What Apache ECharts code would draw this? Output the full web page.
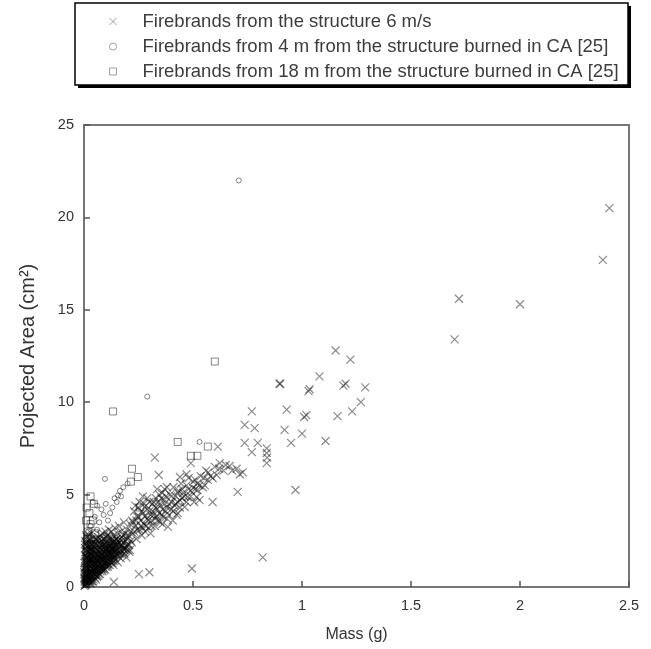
<!DOCTYPE html>
<html>
<head>
<meta charset="utf-8">
<script src="https://cdn.jsdelivr.net/npm/echarts@6/dist/echarts.min.js"></script>
<style>
html,body{margin:0;padding:0;background:#fff;}
#chart{width:651px;height:649px;}
</style>
</head>
<body>
<div id="chart"></div>
<script>
// ---- Data (mass g, projected area cm^2) ----
var seriesNames = [
  'Firebrands from the structure 6 m/s',
  'Firebrands from 4 m from the structure burned in CA [25]',
  'Firebrands from 18 m from the structure burned in CA [25]'
];
var xTicks = [0, 0.5, 1, 1.5, 2, 2.5];
var yTicks = [0, 5, 10, 15, 20, 25];

// crosses: dense core near origin
var structureCore = [
[0.002,0.05],[0.004,0.15],[0.003,0.3],[0.006,0.1],[0.005,0.45],[0.008,0.25],[0.007,0.6],[0.01,0.15],[0.009,0.4],[0.011,0.75],
[0.012,0.3],[0.013,0.55],[0.014,0.9],[0.015,0.2],[0.016,0.65],[0.017,1.05],[0.018,0.4],[0.019,0.8],[0.02,1.2],[0.021,0.3],
[0.022,0.6],[0.023,0.95],[0.024,1.4],[0.025,0.45],[0.026,0.75],[0.027,1.1],[0.028,1.6],[0.029,0.35],[0.03,0.9],[0.031,1.3],
[0.032,0.6],[0.033,1.8],[0.034,1.0],[0.035,0.45],[0.036,1.5],[0.037,0.8],[0.038,2.0],[0.039,1.2],[0.04,0.6],[0.041,1.7],
[0.042,0.95],[0.043,2.2],[0.044,1.35],[0.045,0.7],[0.046,1.9],[0.047,1.1],[0.048,2.4],[0.049,0.85],[0.05,1.55],[0.052,2.1],
[0.053,1.25],[0.054,0.7],[0.055,1.8],[0.056,2.6],[0.057,1.0],[0.058,1.45],[0.06,2.3],[0.061,0.9],[0.062,1.7],[0.063,1.2],
[0.064,2.0],[0.066,2.7],[0.067,1.35],[0.068,0.95],[0.069,1.9],[0.07,2.4],[0.072,1.1],[0.073,1.6],[0.074,2.15],[0.076,1.3],
[0.077,2.8],[0.078,1.8],[0.08,1.05],[0.081,2.5],[0.082,1.5],[0.084,2.0],[0.085,1.2],[0.086,2.9],[0.088,1.7],[0.089,2.3],
[0.09,1.0],[0.092,1.45],[0.093,2.6],[0.094,1.9],[0.096,1.25],[0.097,2.2],[0.098,3.0],[0.1,1.6],[0.101,2.4],[0.103,1.1],
[0.104,2.0],[0.106,2.8],[0.107,1.4],[0.108,1.8],[0.11,2.5],[0.112,1.2],[0.113,2.2],[0.115,3.1],[0.116,1.6],[0.118,2.0],
[0.12,2.7],[0.121,1.35],[0.123,2.35],[0.125,1.8],[0.126,3.0],[0.128,1.5],[0.13,2.5],[0.132,2.05],[0.134,1.2],[0.136,2.8],
[0.138,1.7],[0.14,2.3],[0.142,3.2],[0.144,1.45],[0.146,2.0],[0.148,2.6],[0.15,1.8],[0.153,2.9],[0.155,1.35],[0.157,2.3],
[0.16,3.3],[0.162,1.9],[0.165,2.6],[0.168,1.55],[0.17,3.0],[0.173,2.2],[0.176,1.75],[0.18,2.8],[0.183,3.5],[0.186,2.0],
[0.19,2.5],[0.194,1.6],[0.197,3.1],[0.2,2.3],[0.204,2.8],[0.208,1.9],[0.212,3.4],[0.215,2.5],
[0.001,0.8],[0.002,1.3],[0.003,1.0],[0.004,1.7],[0.005,2.1],[0.006,1.5],[0.008,2.4],[0.01,1.9],[0.012,2.7],[0.014,2.2],
[0.016,1.6],[0.018,2.5],[0.02,1.9],[0.022,2.8],[0.025,2.3],[0.028,2.0],[0.03,2.6],[0.032,2.3],[0.034,2.9],
[0.003,0.7],[0.005,1.1],[0.007,1.4],[0.009,1.7],[0.011,2.0],[0.013,2.3],[0.006,2.5],[0.009,2.8],[0.004,2.3],[0.011,1.3],
[0.013,1.6],[0.015,1.9],[0.017,0.5],[0.019,1.4],[0.021,1.7],[0.023,2.1],[0.024,0.2],[0.026,1.5],[0.027,2.5],[0.029,1.8],
[0.031,0.2],[0.033,0.8],[0.035,2.1],[0.036,1.2],[0.038,0.3],[0.04,2.4],[0.042,1.5],[0.044,0.4],[0.046,1.3],[0.048,1.75],
[0.05,0.5],[0.051,2.3],[0.053,1.0],[0.055,0.4],[0.057,1.6],[0.059,2.0],[0.06,0.55],[0.062,1.4],[0.064,0.8],[0.065,1.55],
[0.067,2.2],[0.069,0.7],[0.071,1.45],[0.073,1.9],[0.075,0.85],[0.077,1.5],[0.079,2.3],[0.081,0.95],[0.083,1.65],[0.085,2.4],
[0.087,1.1],[0.089,1.5],[0.091,2.1],[0.093,1.3],[0.095,1.75],[0.097,0.95],[0.099,2.0],[0.102,1.4],[0.105,1.75],[0.107,2.3],
[0.109,1.3],[0.111,1.9],[0.114,1.5],[0.117,2.3],[0.119,1.4],[0.122,1.9],[0.124,2.2],[0.127,1.6],[0.129,2.1],[0.131,1.8],
[0.133,2.4],[0.135,1.6],[0.137,2.0],[0.139,2.5],[0.141,1.9],[0.143,2.2],[0.147,1.7],[0.149,2.3],[0.152,2.0],[0.156,2.5],
[0.159,1.8],[0.163,2.2],[0.167,2.0],[0.171,2.5],[0.175,2.2],[0.179,1.9],[0.184,2.4],[0.189,2.1],[0.195,2.6],[0.2,2.0],
[0.002,0.5],[0.004,0.9],[0.006,0.35],[0.008,0.75],[0.01,1.1],[0.012,0.5],[0.014,1.3],[0.016,0.35],[0.018,1.0],[0.02,0.45],
[0.022,1.45],[0.024,0.8],[0.026,1.95],[0.028,0.3],[0.03,1.15],[0.032,1.7],[0.034,0.55],[0.036,2.3],[0.038,1.0],[0.04,1.5],
[0.042,0.3],[0.044,2.0],[0.046,0.9],[0.048,1.25],[0.05,2.6],[0.052,0.65],[0.054,1.5],[0.056,1.1],[0.058,0.6],[0.06,1.85],
[0.062,2.5],[0.064,1.0],[0.066,0.6],[0.068,1.7],[0.07,1.2],[0.072,2.6],[0.074,0.7],[0.076,2.0],[0.078,1.0],[0.08,1.7],
[0.082,2.2],[0.084,0.85],[0.086,1.4],[0.088,2.6],[0.09,1.9],[0.092,0.9],[0.094,2.3],[0.096,1.6],[0.098,1.1],[0.1,2.1],
[0.102,2.7],[0.104,1.25],[0.106,1.55],[0.108,2.1],[0.11,1.1],[0.112,2.7],[0.114,1.8],[0.116,2.1],[0.118,1.2],[0.12,1.75],
[0.122,2.5],[0.124,1.45],[0.126,2.0],[0.128,2.6],[0.13,1.3],[0.132,1.7],[0.134,2.2],[0.136,1.4],[0.138,2.4],[0.14,1.6],
[0.145,2.1],[0.15,2.6],[0.155,1.7],[0.16,2.4],[0.165,1.8],[0.17,2.3],[0.175,2.7],[0.18,2.1],[0.185,1.8],[0.19,2.9],
[0.195,2.2],[0.2,2.7],[0.205,2.3],[0.21,2.0],[0.215,3.0],[0.22,2.4]
];
// crosses: band and outliers
var structureBand = [
[0.22,3.6],[0.225,2.9],[0.23,4.1],[0.235,3.3],[0.24,2.6],[0.245,3.8],[0.25,4.3],[0.255,3.1],[0.26,3.6],[0.265,2.8],
[0.27,4.9],[0.27,4.0],[0.275,3.4],[0.28,3.0],[0.285,4.4],[0.29,4.8],[0.29,3.7],[0.295,3.2],[0.30,4.1],[0.305,2.9],
[0.31,3.6],[0.315,4.5],[0.32,3.9],[0.325,3.3],[0.33,4.8],[0.335,4.2],[0.34,3.6],[0.345,5.0],[0.35,4.4],[0.355,3.9],
[0.36,3.4],[0.365,4.7],[0.37,5.3],[0.375,4.1],[0.38,3.7],[0.385,3.25],[0.39,4.5],[0.395,5.0],[0.40,4.2],[0.403,4.6],
[0.407,3.6],[0.41,5.4],[0.415,4.4],[0.42,4.9],[0.425,3.9],[0.43,4.0],[0.43,4.6],[0.435,5.2],[0.44,4.3],[0.445,5.6],
[0.45,4.8],[0.455,5.1],[0.462,4.33],[0.47,5.5],[0.476,4.87],[0.48,5.9],[0.49,5.2],[0.50,5.36],[0.505,4.6],[0.51,5.8],
[0.517,4.87],[0.52,5.6],[0.52,5.25],[0.53,4.7],[0.535,6.0],[0.545,5.4],[0.554,5.5],[0.56,6.3],[0.568,5.8],[0.58,6.0],
[0.59,4.6],[0.609,6.06],[0.62,6.4],[0.623,6.7],[0.64,6.3],[0.65,6.6],[0.668,6.55],[0.68,6.3],[0.70,6.4],[0.715,6.1],
[0.728,6.2],[0.705,5.15],[0.335,5.3],[0.36,5.1],[0.38,5.4],[0.44,5.95],[0.47,6.1],
[0.225,3.5],[0.23,3.0],[0.235,4.4],[0.24,3.6],[0.245,3.1],[0.25,3.8],[0.255,4.6],[0.26,3.3],[0.265,4.1],[0.27,3.2],
[0.275,4.5],[0.28,3.8],[0.285,3.3],[0.29,4.2],[0.295,3.6],[0.30,4.6],[0.305,3.9],[0.31,3.3],[0.315,4.1],[0.32,4.6],
[0.325,3.7],[0.33,4.3],[0.335,3.8],[0.34,4.6],[0.345,4.0],[0.35,3.5],[0.355,4.8],[0.36,4.2],[0.365,3.8],[0.37,4.5],
[0.375,4.9],[0.38,4.3],[0.39,3.9],[0.40,4.9],[0.41,4.1],[0.42,4.5],[0.43,5.1],[0.44,4.7],[0.45,5.3],[0.46,4.9],
[0.47,4.6],[0.48,5.3],[0.49,4.9],[0.50,5.7],[0.51,5.3],[0.53,5.5],[0.55,5.9],[0.57,6.2],[0.59,5.9],[0.60,6.5],
[0.325,7.0],[0.343,6.06],[0.49,6.7],[0.614,7.6],[0.737,7.8],[0.797,7.8],[0.77,7.3],[0.838,7.5],[0.838,7.25],[0.84,7.0],
[0.838,6.7],[0.737,8.77],[0.783,8.6],[0.77,9.5],[0.9,11.0],[0.97,5.25],[0.82,1.6],[0.495,1.0],[0.30,0.8],[0.252,0.7],[0.137,0.27],
[1.154,12.8],[1.222,12.3],[0.897,11.0],[1.08,11.4],[1.035,10.7],[1.03,10.6],[1.20,11.0],[1.19,10.9],[1.29,10.8],[0.93,9.6],
[1.02,9.3],[1.01,9.2],[1.163,9.25],[1.23,9.5],[1.27,10.0],[0.92,8.5],[1.0,8.3],[0.95,7.8],[1.108,7.9],
[1.72,15.6],[1.70,13.4],[2.0,15.3],[2.38,17.7],[2.41,20.5]
];
// circles: 4 m from the structure (CA)
var ca4m = [
[0.71,22.0],[0.29,10.3],[0.53,7.85],[0.096,5.85],[0.18,5.4],[0.156,4.95],[0.2,5.6],[0.14,4.8],[0.04,4.6],[0.06,4.4],
[0.08,4.2],[0.10,4.5],[0.12,4.0],[0.05,3.8],[0.07,3.5],[0.03,3.3],[0.09,3.9],[0.11,3.6],[0.13,4.3],[0.02,3.0],
[0.04,2.8],[0.06,3.1],[0.015,2.4],[0.03,2.1],[0.05,2.5],[0.01,1.8],[0.02,1.5],[0.035,1.9],[0.008,1.0],[0.015,0.8],
[0.025,1.2],[0.004,0.4],[0.01,0.5],[0.15,4.6],[0.17,4.9],[0.165,5.2]
];
// squares: 18 m from the structure (CA)
var ca18m = [
[0.6,12.2],[0.133,9.5],[0.43,7.85],[0.568,7.6],[0.49,7.1],[0.52,7.1],[0.22,6.4],[0.247,5.95],[0.215,5.7],[0.03,4.9],
[0.025,4.0],[0.03,3.4],[0.02,3.0],[0.04,3.6],[0.015,2.6],[0.03,2.3],[0.05,2.9],[0.01,1.9],[0.02,1.4],[0.045,4.5],
[0.256,4.3],[0.01,3.6],[0.012,4.3]
];

var crossPath = 'path://M0,0L10,10M10,0L0,10';
var crossStyle = {color: 'rgba(0,0,0,0)', borderColor: 'rgba(0,0,0,0.58)', borderWidth: 1.2};
var markStyle = {color: 'rgba(0,0,0,0)', borderColor: 'rgba(0,0,0,0.6)', borderWidth: 1};
var fontFam = 'Liberation Sans, Arial, sans-serif';

var chart = echarts.init(document.getElementById('chart'), null, {renderer: 'canvas'});
var option = {
  backgroundColor: '#fff',
  animation: false,
  textStyle: {fontFamily: fontFam},
  graphic: [
    {type: 'rect', z: 0, shape: {x: 78, y: 6, width: 553, height: 82}, style: {fill: '#000'}},
    {type: 'rect', z: 1, shape: {x: 75, y: 3, width: 553, height: 82}, style: {fill: '#fff', stroke: '#000', lineWidth: 1.5}}
  ],
  legend: {
    z: 10,
    orient: 'vertical',
    left: 104,
    top: 7,
    itemWidth: 7,
    itemHeight: 7,
    itemGap: 6,
    data: [
      {name: seriesNames[0], icon: crossPath},
      {name: seriesNames[1], icon: 'circle'},
      {name: seriesNames[2], icon: 'rect'}
    ],
    itemStyle: {color: 'rgba(0,0,0,0)', borderColor: '#888', borderWidth: 1},
    textStyle: {fontSize: 18.5, color: '#3c3c3c', lineHeight: 18, padding: [0, 0, 0, 21], fontFamily: fontFam}
  },
  grid: {left: 84, right: 22, top: 125, bottom: 62, show: true, borderColor: '#777', borderWidth: 2},
  xAxis: {
    type: 'value', min: xTicks[0], max: xTicks[xTicks.length - 1], interval: 0.5,
    name: 'Mass (g)', nameLocation: 'middle', nameGap: 40,
    nameTextStyle: {fontSize: 16, color: '#333'},
    axisLine: {show: true, lineStyle: {color: '#777', width: 2}},
    axisTick: {show: true, inside: true, length: 6, lineStyle: {color: '#555', width: 1.5}},
    axisLabel: {fontSize: 14.5, color: '#333', margin: 11},
    splitLine: {show: false}
  },
  yAxis: {
    type: 'value', min: yTicks[0], max: yTicks[yTicks.length - 1], interval: 5,
    name: 'Projected Area (cm²)', nameLocation: 'middle', nameGap: 46,
    nameTextStyle: {fontSize: 20, color: '#333'},
    axisLine: {show: true, lineStyle: {color: '#777', width: 2}},
    axisTick: {show: true, inside: true, length: 6, lineStyle: {color: '#555', width: 1.5}},
    axisLabel: {fontSize: 14.5, color: '#333', margin: 10},
    splitLine: {show: false}
  },
  series: [
    {name: seriesNames[0], type: 'scatter', symbol: crossPath, symbolSize: 8,
     data: structureCore.concat(structureBand), itemStyle: crossStyle},
    {name: seriesNames[1], type: 'scatter', symbol: 'circle', symbolSize: 5,
     data: ca4m, itemStyle: markStyle},
    {name: seriesNames[2], type: 'scatter', symbol: 'rect', symbolSize: 7,
     data: ca18m, itemStyle: markStyle}
  ]
};
chart.setOption(option);
</script>
</body>
</html>
